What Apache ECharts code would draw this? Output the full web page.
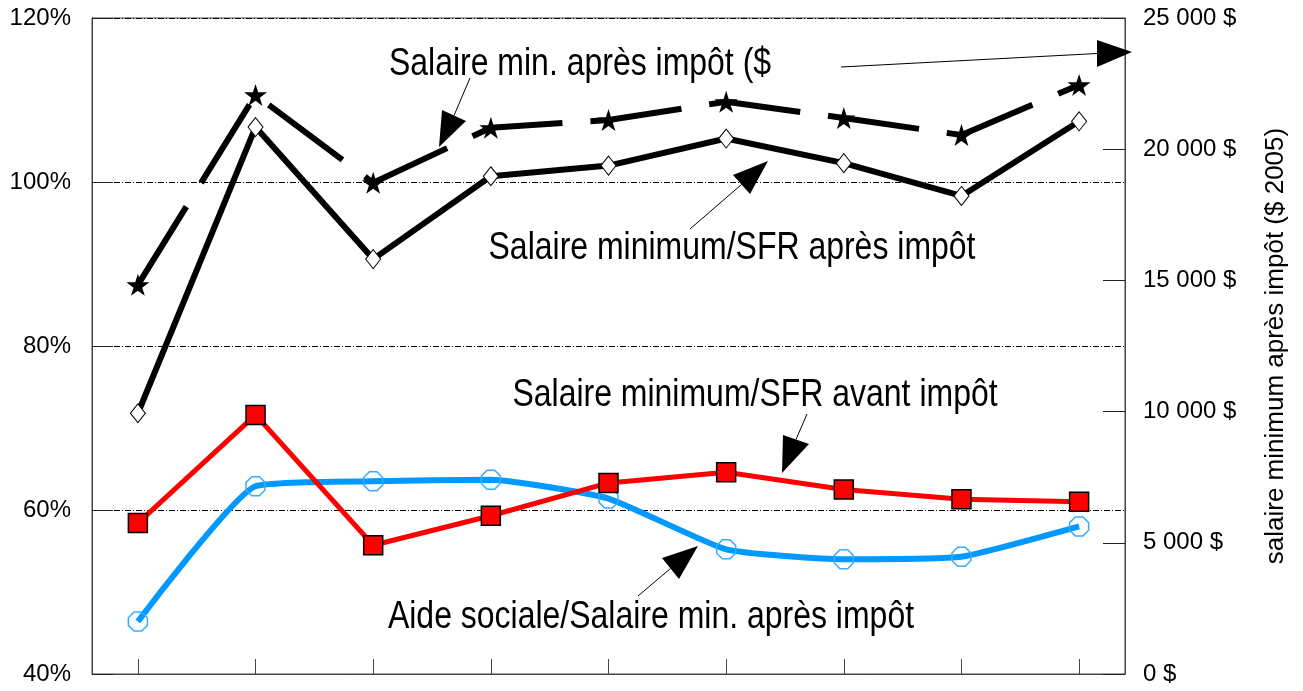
<!DOCTYPE html>
<html>
<head>
<meta charset="utf-8">
<script src="https://cdn.jsdelivr.net/npm/echarts@6/dist/echarts.min.js"></script>
<style>
  html, body { margin: 0; padding: 0; background: #fff; }
  #chart { width: 1303px; height: 691px; }
</style>
</head>
<body>
<div id="chart"></div>
<script>
  // positions des années sur l'axe horizontal (pas d'étiquettes dans l'original)
  const xPos = [0, 1, 2, 3, 4, 5, 6, 7, 8];
  const leftTicks = [40, 60, 80, 100, 120];

  // Salaire min. après impôt ($ 2005) - axe de droite
  const netWage = [14830, 22070, 18720, 20820, 21110, 21810, 21190, 20540, 22450];
  // Salaire minimum/SFR après impôt (%)
  const ratioAfterTax = [71.8, 106.7, 90.6, 100.7, 102.0, 105.3, 102.3, 98.3, 107.4];
  // Salaire minimum/SFR avant impôt (%)
  const ratioBeforeTax = [58.4, 71.6, 55.7, 59.3, 63.3, 64.6, 62.5, 61.3, 61.0];
  // Aide sociale/Salaire min. après impôt (%)
  const welfareRatio = [46.4, 62.9, 63.5, 63.7, 61.4, 55.2, 54.0, 54.3, 58.0];

  const SANS = "'Liberation Sans', Arial, sans-serif";
  const STAR = 'path://M50,0 L61,35 L98,35 L68,57 L79,91 L50,70 L21,91 L32,57 L2,35 L39,35 Z';
  const OCTAGON = 'path://M30,0 L70,0 L100,30 L100,70 L70,100 L30,100 L0,70 L0,30 Z';

  const pts = arr => xPos.map((x, i) => [x, arr[i]]);

  // texte étroit : Liberation Sans compressé horizontalement
  function label(text, x, y) {
    return {
      type: 'text', x: x, y: y, z: 100, scaleX: 0.82, scaleY: 1,
      style: { text: text, fill: '#000', font: '39px ' + SANS, textAlign: 'center', textVerticalAlign: 'middle' }
    };
  }
  function whiteBox(x, y, w, h) {
    return { type: 'rect', z: 90, shape: { x: x, y: y, width: w, height: h }, style: { fill: '#fff' } };
  }
  function arrow(from, b1, b2, tip) {
    const mid = [(b1[0] + b2[0]) / 2, (b1[1] + b2[1]) / 2];
    return [
      { type: 'line', z: 100, shape: { x1: from[0], y1: from[1], x2: mid[0], y2: mid[1] }, style: { stroke: '#000', lineWidth: 1 } },
      { type: 'polygon', z: 100, shape: { points: [b1, tip, b2] }, style: { fill: '#000' } }
    ];
  }

  const chart = echarts.init(document.getElementById('chart'));
  chart.setOption({
    animation: false,
    backgroundColor: '#fff',
    grid: { left: 92, right: 178, top: 18, bottom: 17, show: true, borderColor: '#444', borderWidth: 1 },
    xAxis: {
      type: 'value', min: -0.39, max: 8.39,
      axisLine: { onZero: false, lineStyle: { color: '#444', width: 1 } },
      axisTick: { inside: true, length: 15, customValues: xPos, lineStyle: { color: '#444' } },
      axisLabel: { show: false },
      splitLine: { show: false }
    },
    yAxis: [
      {
        type: 'value', min: 40, max: 120, interval: 10,
        axisLine: { show: true, onZero: false, lineStyle: { color: '#444', width: 1 } },
        axisTick: { show: true, inside: true, length: 21, customValues: leftTicks, lineStyle: { color: '#222' } },
        axisLabel: { customValues: leftTicks, formatter: v => v + '%', color: '#000', fontSize: 24, fontFamily: SANS, margin: 21 },
        splitLine: { show: true, lineStyle: { color: '#000', width: 1, type: [6, 2, 1, 2] } }
      },
      {
        type: 'value', min: 0, max: 25000, interval: 5000, position: 'right',
        name: 'salaire minimum après impôt ($ 2005)',
        nameLocation: 'middle', nameRotate: 90, nameGap: 138,
        nameTextStyle: { color: '#000', fontSize: 26, fontFamily: SANS },
        axisLine: { show: true, onZero: false, lineStyle: { color: '#444', width: 1 } },
        axisTick: { show: true, inside: true, length: 22, lineStyle: { color: '#222' } },
        axisLabel: {
          color: '#000', fontSize: 24, fontFamily: SANS, margin: 18,
          formatter: v => v === 0 ? '0 $' : (v / 1000) + ' 000 $'
        },
        splitLine: { show: false }
      }
    ],
    series: [
      {
        name: 'Aide sociale/Salaire min. après impôt', type: 'line', yAxisIndex: 0,
        data: pts(welfareRatio), smooth: 0.15,
        lineStyle: { color: '#0099ff', width: 6 },
        symbol: OCTAGON, symbolSize: 19,
        itemStyle: { color: 'rgba(255,255,255,0)', borderColor: '#3aacff', borderWidth: 1.5 }, z: 3
      },
      {
        name: 'Salaire minimum/SFR avant impôt', type: 'line', yAxisIndex: 0,
        data: pts(ratioBeforeTax),
        lineStyle: { color: '#ff0000', width: 5 },
        symbol: 'rect', symbolSize: 19,
        itemStyle: { color: '#ff0000', borderColor: '#000', borderWidth: 1.5 }, z: 4
      },
      {
        name: 'Salaire minimum/SFR après impôt', type: 'line', yAxisIndex: 0,
        data: pts(ratioAfterTax),
        lineStyle: { color: '#000', width: 6 },
        symbol: 'diamond', symbolSize: [15, 19],
        itemStyle: { color: '#fff', borderColor: '#000', borderWidth: 1 }, z: 5
      },
      {
        name: 'Salaire min. après impôt ($)', type: 'line', yAxisIndex: 1,
        data: pts(netWage),
        lineStyle: { color: '#000', width: 6, type: [92, 28] },
        symbol: STAR, symbolSize: [23, 22],
        itemStyle: { color: '#000' }, z: 6
      }
    ],
    graphic: [
      whiteBox(452, 233, 558, 44),
      whiteBox(371, 589, 558, 54),
      label('Salaire min. après impôt ($', 580, 64),
      label('Salaire minimum/SFR après impôt', 732, 248),
      label('Salaire minimum/SFR avant impôt', 755, 395),
      label('Aide sociale/Salaire min. après impôt', 651, 617),
      ...arrow([470, 78], [442, 110], [466, 121], [439, 147]),
      ...arrow([841, 67], [1097, 40], [1097, 67], [1132, 52]),
      ...arrow([690, 229], [733, 175], [750, 194], [768, 161]),
      ...arrow([807, 414], [783, 435], [809, 444], [782, 473]),
      ...arrow([638, 596], [662, 558], [679, 579], [698, 546])
    ]
  });
</script>
</body>
</html>
